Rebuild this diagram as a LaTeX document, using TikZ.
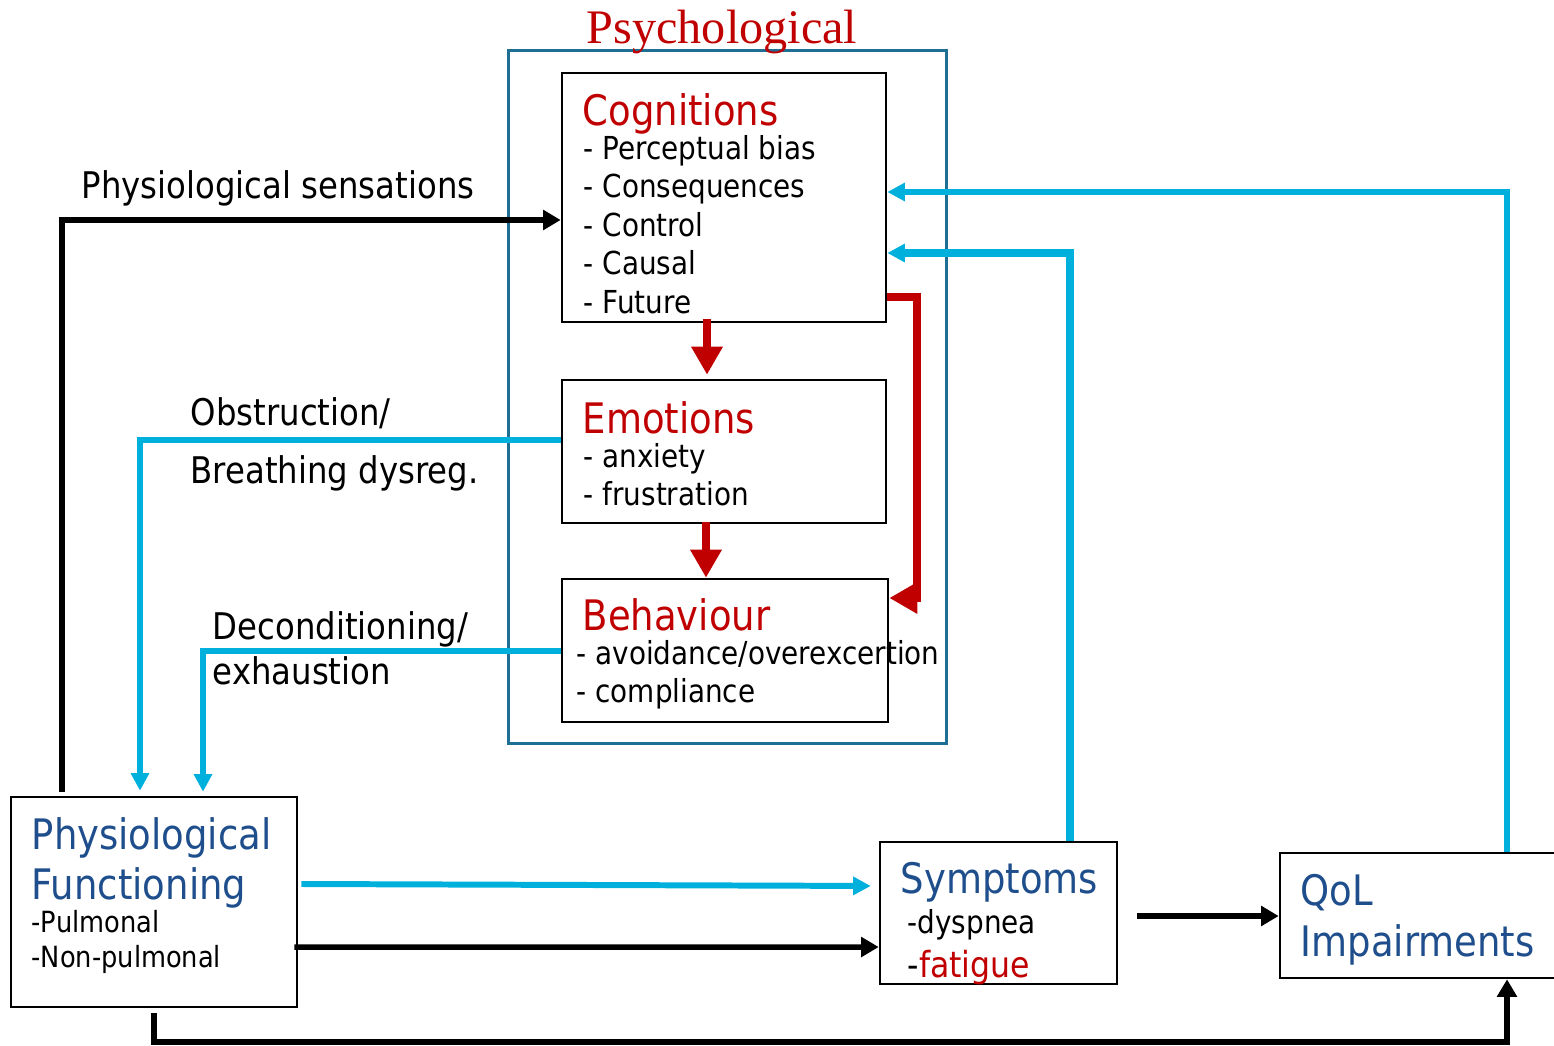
\documentclass[tikz,border=0pt]{standalone}
\usepackage{fontspec}
\setmainfont{DejaVu Sans}[FakeStretch=0.88]
\newfontfamily\psyfont{Liberation Serif}
\usetikzlibrary{arrows.meta}
\definecolor{cred}{HTML}{C00000}
\definecolor{cblue}{HTML}{1F4E8C}
\definecolor{ccyan}{HTML}{00B0DC}
\definecolor{cteal}{HTML}{1F6E94}
\begin{document}
\begin{tikzpicture}[x=0.01cm,y=-0.01cm,
  box/.style={draw=black, line width=0.7pt, inner sep=0pt},
  ttl/.style={anchor=base west, inner sep=0pt, font=\fontsize{11.95}{14}\selectfont},
  itm/.style={anchor=base west, inner sep=0pt, font=\fontsize{9}{11}\selectfont},
  lbl/.style={anchor=base west, inner sep=0pt, font=\fontsize{10.45}{13}\selectfont},
  blk/.style={draw=black, line width=1.55pt, -{Triangle[length=5pt,width=5.5pt]}},
  cyn/.style={draw=ccyan, line width=1.7pt, -{Triangle[length=5pt,width=5pt]}},
  rd/.style={draw=cred, line width=2.3pt, -{Triangle[length=8pt,width=8.5pt]}}]
\useasboundingbox (0,0) rectangle (1554,1045);
\clip (0,0) rectangle (1554,1045);

% psychological frame
\node[draw=cteal, line width=0.9pt, inner sep=0pt, minimum width=4.37cm, minimum height=6.92cm] (psy) at (727.5,397) {};
\node[anchor=base, inner sep=0pt, text=cred, font=\psyfont\fontsize{13.7}{16}\selectfont] (psyT) at (722,43) {Psychological};

% boxes
\node[box, minimum width=3.24cm, minimum height=2.49cm] (cog) at (724,197.5) {};
\node[box, minimum width=3.24cm, minimum height=1.43cm] (emo) at (724,451.5) {};
\node[box, minimum width=3.26cm, minimum height=1.43cm] (beh) at (725,650.5) {};
\node[box, minimum width=2.86cm, minimum height=2.10cm] (phys) at (154,902) {};
\node[box, minimum width=2.37cm, minimum height=1.42cm] (sym) at (998.5,913) {};
\node[box, minimum width=2.90cm, minimum height=1.25cm] (qol) at (1425,915.5) {};

% texts
\node[ttl, text=cred] (cogT) at (582,125) {Cognitions};
\foreach \t [count=\i] in {Perceptual bias, Consequences, Control, Causal, Future}
  \node[itm] (cogI\i) at (583,{159+38.5*(\i-1)}) {- \t};
\node[ttl, text=cred] (emoT) at (582,433) {Emotions};
\node[itm] (emoI1) at (583,467) {- anxiety};
\node[itm] (emoI2) at (583,505) {- frustration};
\node[ttl, text=cred] (behT) at (582,630) {Behaviour};
\node[itm] (behI1) at (576,664) {- avoidance/overexcertion};
\node[itm] (behI2) at (576,702) {- compliance};
\node[ttl, text=cblue] (physT1) at (31,849) {Physiological};
\node[ttl, text=cblue] (physT2) at (31,899) {Functioning};
\node[itm, font=\fontsize{8.3}{10}\selectfont] (physI1) at (31,932) {-Pulmonal};
\node[itm, font=\fontsize{8.3}{10}\selectfont] (physI2) at (31,967) {-Non-pulmonal};
\node[ttl, text=cblue] (symT) at (900,893) {Symptoms};
\node[itm] (symI1) at (907,933) {-dyspnea};
\node[itm, font=\fontsize{10.2}{12}\selectfont] (symI2) at (907,977) {-\textcolor{cred}{fatigue}};
\node[ttl, text=cblue] (qolT1) at (1300,905) {QoL};
\node[ttl, text=cblue] (qolT2) at (1300,956) {Impairments};

% labels
\node[lbl] (l1) at (81,198) {Physiological sensations};
\node[lbl] (l2) at (190,425) {Obstruction/};
\node[lbl] (l3) at (190,483) {Breathing dysreg.};
\node[lbl] (l4) at (212,639) {Deconditioning/};
\node[lbl] (l5) at (212,684) {exhaustion};

% coordinates for connector corners
\coordinate (a1) at (62,220);
\coordinate (a2) at (140,440);
\coordinate (a3) at (203,651);
\coordinate (a6) at (1507,1042);
\coordinate (a7) at (1137,916);
\coordinate (a8) at (1070,253);
\coordinate (a9) at (1507,192);
\coordinate (r10) at (707,0);
\coordinate (r11) at (706,0);
\coordinate (r12) at (917,297);
\coordinate (r12b) at (917,598);

% black connectors
\draw[blk, shorten <=0.04cm] (phys.north -| a1) -- (a1) -- (cog.west |- a1);
\draw[blk] ([yshift=-0.45cm,xshift=-0.04cm]phys.east) -- ([yshift=-0.34cm]sym.west);
\draw[blk, shorten <=0.05cm] (phys.south) |- (a6) -- (qol.south -| a6);
\draw[blk] (a7) -- (qol.west |- a7);

% cyan connectors
\draw[cyn, shorten >=0.05cm] (emo.west |- a2) -- (a2) -- (phys.north -| a2);
\draw[cyn, shorten >=0.04cm] (beh.west |- a3) -- (a3) -- (phys.north -| a3);
\draw[cyn, shorten >=0.08cm] ([yshift=0.18cm,xshift=0.03cm]phys.east) -- ([yshift=0.27cm]sym.west);
\draw[cyn, line width=2.1pt] (sym.north -| a8) -- (a8) -- (cog.east |- a8);
\draw[cyn] (qol.north -| a9) -- (a9) -- (cog.east |- a9);

% red connectors
\draw[rd, shorten <=-0.04cm, shorten >=0.04cm] (cog.south -| r10) -- (emo.north -| r10);
\draw[rd, shorten <=-0.02cm] (emo.south -| r11) -- (beh.north -| r11);
\draw[rd] (cog.east |- r12) -- (r12) -- (r12b) -- (beh.east |- r12b);
\end{tikzpicture}
\end{document}
